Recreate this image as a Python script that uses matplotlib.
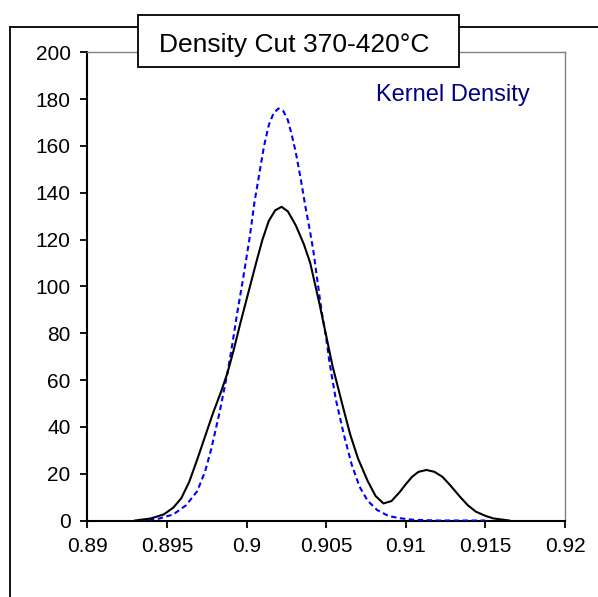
import matplotlib
matplotlib.use("Agg")
import matplotlib.pyplot as plt
from matplotlib.lines import Line2D
from matplotlib.patches import Rectangle

plt.rcParams['font.family'] = ['Liberation Sans', 'DejaVu Sans']

# density curve (black)
x_dens = [0.8930, 0.8940, 0.8948, 0.8954, 0.8959, 0.8964, 0.8969, 0.8974, 0.8979,
          0.8984, 0.8988, 0.8992, 0.8996, 0.9001, 0.9006, 0.9010, 0.9014, 0.9018,
          0.9022, 0.9026, 0.9031, 0.9036, 0.9040, 0.9046, 0.9050, 0.9054, 0.9060,
          0.9065, 0.9070, 0.9076, 0.9081, 0.9086, 0.9091, 0.9096, 0.9100, 0.9104,
          0.9108, 0.9113, 0.9118, 0.9123, 0.9128, 0.9134, 0.9139, 0.9144, 0.9150,
          0.9155, 0.9165]
y_dens = [0, 0.9, 2.6, 5.5, 9.5, 16.5, 26, 36, 46,
          55, 63, 73, 84, 97, 110, 120, 128, 132.5,
          134, 132, 126, 118, 110, 92, 79, 66, 50,
          37, 26.5, 17, 10.5, 7.3, 8.3, 12, 15.5, 18.7,
          20.8, 21.6, 20.8, 18.7, 15, 10.2, 6.5, 3.8, 2,
          0.9, 0]

# kernel density (blue dashed)
x_kern = [0.8933, 0.8945, 0.8954, 0.8962, 0.8969, 0.8974, 0.8978, 0.8983, 0.8988,
          0.8991, 0.8994, 0.8998, 0.9002, 0.9005, 0.9008, 0.9011, 0.9014, 0.9017,
          0.9020, 0.9023, 0.9026, 0.9029, 0.9031, 0.9034, 0.9037, 0.9040, 0.9042,
          0.9045, 0.9047, 0.9050, 0.9052, 0.9056, 0.9061, 0.9066, 0.9071, 0.9076,
          0.9082, 0.9089, 0.9096, 0.9105, 0.9120, 0.9150]
y_kern = [0, 0.8, 2.6, 6.5, 12.5, 21, 31, 46, 63,
          75, 88, 104, 121, 136, 148, 160, 169, 174,
          176, 175, 171, 163, 157, 146, 134, 123, 115,
          100, 90, 78, 68, 52, 37, 24, 14.4, 8.5,
          4.5, 2, 1, 0.3, 0, 0]

x_ticks = [0.89, 0.895, 0.9, 0.905, 0.91, 0.915, 0.92]
x_labels = ['0.89', '0.895', '0.9', '0.905', '0.91', '0.915', '0.92']
y_ticks = [0, 20, 40, 60, 80, 100, 120, 140, 160, 180, 200]

fig = plt.figure(figsize=(5.98, 5.97), dpi=100)
ax = fig.add_axes([0.146, 0.1281, 0.7988, 0.7843])

ax.plot(x_kern, y_kern, color='#0000ff', lw=1.5, ls=(0, (2.6, 1.7)), zorder=3)
ax.plot(x_dens, y_dens, color='black', lw=1.5, zorder=4)

ax.set_xlim(0.89, 0.92)
ax.set_ylim(0, 200)
ax.set_xticks(x_ticks)
ax.set_xticklabels(x_labels)
ax.set_yticks(y_ticks)
ax.tick_params(direction='out', length=5, width=1.3, labelsize=15, pad=7, color='black')

for s in ['left', 'bottom']:
    ax.spines[s].set_color('black')
    ax.spines[s].set_linewidth(1.5)
for s in ['top', 'right']:
    ax.spines[s].set_color('#808080')
    ax.spines[s].set_linewidth(1.0)

# outer frame (left and top edges visible)
fig.add_artist(Line2D([10 / 598, 10 / 598], [0, 1 - 26.5 / 597], color='black', lw=1.3))
fig.add_artist(Line2D([10 / 598, 1], [1 - 26.5 / 597, 1 - 26.5 / 597], color='black', lw=1.3))

# title box
fig.add_artist(Rectangle((137.7 / 598, 1 - 66.7 / 597), (459 - 137.7) / 598, 51.7 / 597,
                         transform=fig.transFigure, facecolor='white', edgecolor='black',
                         lw=1.3, zorder=10))
fig.text(294 / 598, 1 - 51.7 / 597, 'Density Cut 370-420°C', ha='center', va='baseline',
         fontsize=19, zorder=11)

fig.text(453 / 598, 1 - 100.7 / 597, 'Kernel Density', ha='center', va='baseline',
         fontsize=17, color='#000080')

fig.savefig('out.png', dpi=100)
